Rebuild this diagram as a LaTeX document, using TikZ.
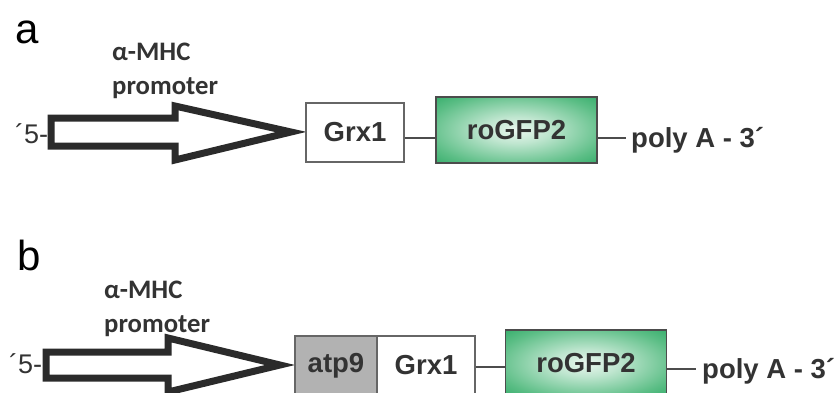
\documentclass[tikz,border=0pt]{standalone}
\usepackage{fontspec}
\setmainfont{Liberation Sans}
\newfontfamily\carlfont{Carlito}
\definecolor{inkgray}{HTML}{333333}
\definecolor{arrowgray}{HTML}{2B2B2B}
\definecolor{gfpgreen}{HTML}{0A9A4C}
\definecolor{gfpmid}{HTML}{5CBE86}
\definecolor{gfplight}{HTML}{EAF7EF}
\pgfdeclareradialshading{gfpglow}{\pgfpoint{0bp}{0bp}}{color(0bp)=(gfplight); color(10bp)=(gfplight!70!gfpmid); color(28bp)=(gfpmid); color(46bp)=(gfpgreen); color(50bp)=(gfpgreen)}
\tikzset{
  panel/.style={font=\fontsize{42}{44}\selectfont, text=black, inner sep=0pt},
  endlabel/.style={font=\fontsize{27}{30}\selectfont, text=inkgray, inner sep=0pt},
  promlabel/.style={font=\carlfont\bfseries\fontsize{26.7}{34}\selectfont, text=inkgray, align=left, inner sep=0pt},
  genelabel/.style={font=\bfseries\fontsize{27.5}{30}\selectfont, text=inkgray, inner sep=0pt},
  genebox/.style={draw=gray!80!black, line width=1.2pt, fill=white, font=\bfseries\fontsize{27.5}{30}\selectfont, text=inkgray, inner sep=0pt, minimum height=59pt},
  seqbox/.style={genebox, fill=gray!60},
  gfpbox/.style={genebox, draw=black!70, line width=1.6pt, shading=gfpglow, minimum width=161pt, minimum height=66pt},
  promarrow/.style={draw=arrowgray, fill=white, line width=7pt, miter limit=10},
  link/.style={draw=black!70, line width=1.5pt}
}
\begin{document}
\begin{tikzpicture}[x=1pt,y=-1pt]
        \useasboundingbox (0,0) rectangle (837,392);
        \clip (0,0) rectangle (837,392);

        % construct a
        \node[panel, anchor=base west] (la) at (15,43) {a};
        \node[promlabel, anchor=north west] (promA) at (112,43) {α-MHC\\promoter};
        \node[endlabel, anchor=base west] (fiveA) at (15,143) {´5-};
        \draw[promarrow] (51,118) -- (175,118) -- (175,106) -- (291,132) -- (175,160) -- (175,146) -- (51,146) -- cycle;
        \node[genebox, minimum width=98pt] (grxA) at (355,132.5) {\raisebox{-4pt}{Grx1}};
        \node[gfpbox] (gfpA) at (516.5,130) {roGFP2};
        \node[genelabel, anchor=base west] (polyA) at (631,147) {poly A - 3´};
        \draw[link] ([yshift=-5.5pt]grxA.east) -- ([yshift=-5.5pt]grxA.east -| gfpA.west);
        \draw[link] ([yshift=-8pt]gfpA.east) -- ([yshift=-8pt,xshift=-5pt]gfpA.east -| polyA.west);

        % construct b
        \node[panel, anchor=base west] (lb) at (17,270) {b};
        \node[promlabel, anchor=north west] (promB) at (104,281) {α-MHC\\promoter};
        \node[endlabel, anchor=base west] (fiveB) at (9,373) {´5-};
        \draw[promarrow] (46,352) -- (168,352) -- (168,338) -- (280,365) -- (168,392) -- (168,378) -- (46,378) -- cycle;
        \node[seqbox, minimum width=82pt] (atpB) at (336,365.5) {atp9};
        \node[genebox, minimum width=98pt] (grxB) at (426,365.5) {\raisebox{-4pt}{Grx1}};
        \node[gfpbox] (gfpB) at (586,363) {roGFP2};
        \node[genelabel, anchor=base west] (polyB) at (702,378) {poly A - 3´};
        \draw[link] ([yshift=-1.5pt]grxB.east) -- ([yshift=-1.5pt]grxB.east -| gfpB.west);
        \draw[link] ([yshift=-6pt]gfpB.east) -- ([yshift=-6pt,xshift=-6pt]gfpB.east -| polyB.west);
\end{tikzpicture}
\end{document}
